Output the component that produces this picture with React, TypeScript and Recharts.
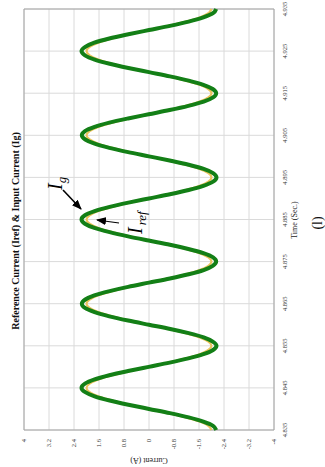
import { LineChart, Line, XAxis, YAxis, CartesianGrid, ReferenceArea } from "recharts";

// time stamps (s), read every 1 ms
const timeSec = [
  4.835, 4.836, 4.837, 4.838, 4.839, 4.84, 4.841, 4.842, 4.843, 4.844,
  4.845, 4.846, 4.847, 4.848, 4.849, 4.85, 4.851, 4.852, 4.853, 4.854,
  4.855, 4.856, 4.857, 4.858, 4.859, 4.86, 4.861, 4.862, 4.863, 4.864,
  4.865, 4.866, 4.867, 4.868, 4.869, 4.87, 4.871, 4.872, 4.873, 4.874,
  4.875, 4.876, 4.877, 4.878, 4.879, 4.88, 4.881, 4.882, 4.883, 4.884,
  4.885, 4.886, 4.887, 4.888, 4.889, 4.89, 4.891, 4.892, 4.893, 4.894,
  4.895, 4.896, 4.897, 4.898, 4.899, 4.9, 4.901, 4.902, 4.903, 4.904,
  4.905, 4.906, 4.907, 4.908, 4.909, 4.91, 4.911, 4.912, 4.913, 4.914,
  4.915, 4.916, 4.917, 4.918, 4.919, 4.92, 4.921, 4.922, 4.923, 4.924,
  4.925, 4.926, 4.927, 4.928, 4.929, 4.93, 4.931, 4.932, 4.933, 4.934,
  4.935,
];

// input current Ig (A)
const igAmps = [
  -2.15, -2.05, -1.74, -1.27, -0.67, 0.0, 0.66, 1.26, 1.74, 2.04,
  2.16, 2.05, 1.74, 1.27, 0.67, 0.01, -0.66, -1.26, -1.74, -2.05,
  -2.16, -2.04, -1.75, -1.27, -0.68, 0.0, 0.67, 1.27, 1.74, 2.05,
  2.15, 2.04, 1.75, 1.26, 0.67, 0.0, -0.67, -1.27, -1.75, -2.04,
  -2.15, -2.05, -1.74, -1.26, -0.67, 0.01, 0.67, 1.26, 1.75, 2.05,
  2.16, 2.05, 1.74, 1.26, 0.66, 0.0, -0.67, -1.27, -1.74, -2.05,
  -2.16, -2.05, -1.75, -1.27, -0.66, 0.0, 0.67, 1.27, 1.74, 2.04,
  2.15, 2.05, 1.74, 1.27, 0.67, 0.01, -0.66, -1.26, -1.75, -2.05,
  -2.15, -2.04, -1.74, -1.27, -0.67, 0.0, 0.66, 1.26, 1.74, 2.05,
  2.16, 2.04, 1.75, 1.27, 0.66, 0.0, -0.67, -1.27, -1.74, -2.05,
  -2.15,
];

// reference current Iref (A)
const irefAmps = [
  -2.0, -1.9, -1.62, -1.18, -0.62, 0.0, 0.62, 1.18, 1.62, 1.9,
  2.0, 1.9, 1.62, 1.18, 0.62, 0.0, -0.62, -1.18, -1.62, -1.9,
  -2.0, -1.9, -1.62, -1.18, -0.62, 0.0, 0.62, 1.18, 1.62, 1.9,
  2.0, 1.9, 1.62, 1.18, 0.62, 0.0, -0.62, -1.18, -1.62, -1.9,
  -2.0, -1.9, -1.62, -1.18, -0.62, 0.0, 0.62, 1.18, 1.62, 1.9,
  2.0, 1.9, 1.62, 1.18, 0.62, 0.0, -0.62, -1.18, -1.62, -1.9,
  -2.0, -1.9, -1.62, -1.18, -0.62, 0.0, 0.62, 1.18, 1.62, 1.9,
  2.0, 1.9, 1.62, 1.18, 0.62, 0.0, -0.62, -1.18, -1.62, -1.9,
  -2.0, -1.9, -1.62, -1.18, -0.62, 0.0, 0.62, 1.18, 1.62, 1.9,
  2.0, 1.9, 1.62, 1.18, 0.62, 0.0, -0.62, -1.18, -1.62, -1.9,
  -2.0,
];

const timeTicks = [4.835, 4.845, 4.855, 4.865, 4.875, 4.885, 4.895, 4.905, 4.915, 4.925, 4.935];
const currentTicks = [-4, -3.2, -2.4, -1.6, -0.8, 0, 0.8, 1.6, 2.4, 3.2, 4];

const data = timeSec.map((t, i) => ({ t, ig: igAmps[i], iref: irefAmps[i] }));

const SERIF = "'Liberation Serif', 'DejaVu Serif', serif";
const W = 467; // chart is drawn landscape, then turned a quarter left
const H = 325;

const tickStyle = { fontSize: 6.5, fill: "#333", fontFamily: SERIF };

export default function App() {
  return (
    <div
      style={{
        position: "absolute",
        left: 0,
        top: 0,
        width: H,
        height: W,
        background: "#fff",
        overflow: "hidden",
      }}
    >
      <div
        style={{
          position: "absolute",
          left: 0,
          top: 0,
          width: W,
          height: H,
          transformOrigin: "0 0",
          transform: `translate(0px, ${W}px) rotate(-90deg)`,
        }}
      >
        <LineChart width={W} height={H} data={data} margin={{ top: 24, right: 9, bottom: 0, left: 0 }}>
          <CartesianGrid stroke="#dadada" strokeWidth={1} />
          <XAxis
            dataKey="t"
            type="number"
            domain={[4.835, 4.935]}
            ticks={timeTicks}
            interval={0}
            height={51}
            tickSize={0}
            tickMargin={8}
            axisLine={false}
            tickLine={false}
            tick={tickStyle}
            tickFormatter={(v: number) => v.toFixed(3)}
          />
          <YAxis
            type="number"
            domain={[-4, 4]}
            ticks={currentTicks}
            interval={0}
            width={37}
            tickSize={0}
            tickMargin={9}
            axisLine={false}
            tickLine={false}
            tick={tickStyle}
          />
          <ReferenceArea
            x1={4.835}
            x2={4.935}
            y1={-4}
            y2={4}
            fill="none"
            stroke="#a4a4a4"
            strokeWidth={1}
            ifOverflow="visible"
          />
          <Line
            dataKey="iref"
            type="monotone"
            stroke="#ecc45e"
            strokeWidth={2.2}
            dot={false}
            isAnimationActive={false}
          />
          <Line
            dataKey="ig"
            type="monotone"
            stroke="#137f16"
            strokeWidth={4}
            dot={false}
            isAnimationActive={false}
          />
        </LineChart>
        <svg
          width={W}
          height={H}
          style={{ position: "absolute", left: 0, top: 0, pointerEvents: "none" }}
        >
          <text x={236} y={19} textAnchor="middle" fontFamily={SERIF} fontWeight="bold" fontSize={10} fill="#111">
            Reference Current (Iref) &amp; Input Current (Ig)
          </text>
          <text x={247} y={297} textAnchor="middle" fontFamily={SERIF} fontSize={8} fill="#222">
            Time (Sec.)
          </text>
          <text
            transform="translate(9,149) rotate(-90)"
            textAnchor="middle"
            fontFamily={SERIF}
            fontSize={8}
            fill="#222"
          >
            Current (A)
          </text>
          <text x={244} y={322} textAnchor="middle" fontFamily={SERIF} fontSize={14} fill="#111">
            (l)
          </text>
        </svg>
      </div>
      {/* arrow annotations, in page orientation */}
      <svg width={H} height={W} style={{ position: "absolute", left: 0, top: 0, pointerEvents: "none" }}>
        <defs>
          <marker id="head" markerUnits="userSpaceOnUse" markerWidth={10} markerHeight={8} refX={9} refY={4} orient="auto">
            <path d="M0,0 L10,4 L0,8 z" fill="#000" />
          </marker>
        </defs>
        <line x1={63} y1={190} x2={81} y2={209} stroke="#000" strokeWidth={1.6} markerEnd="url(#head)" />
        <line x1={119} y1={223} x2={97} y2={220} stroke="#000" strokeWidth={1.2} markerEnd="url(#head)" />
        <text transform="translate(62,190) rotate(-90)" fontFamily={SERIF} fontStyle="italic" fill="#000">
          <tspan fontSize={20}>I</tspan>
          <tspan fontSize={13} dy={4}>g</tspan>
        </text>
        <text transform="translate(142,234) rotate(-90)" fontFamily={SERIF} fontStyle="italic" fill="#000">
          <tspan fontSize={20}>I</tspan>
          <tspan fontSize={13} dy={4} dx={2}>ref</tspan>
        </text>
      </svg>
    </div>
  );
}
